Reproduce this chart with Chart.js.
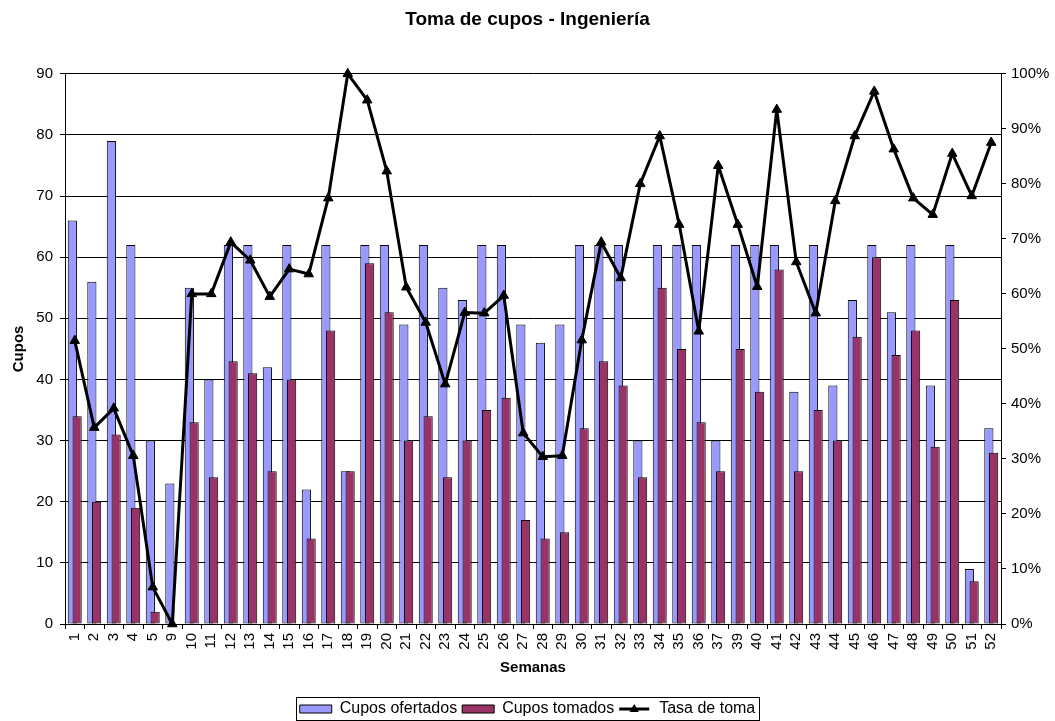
<!DOCTYPE html>
<html><head><meta charset="utf-8">
<script src="https://cdn.jsdelivr.net/npm/chart.js@4.4.1/dist/chart.umd.min.js"></script>
<style>html,body{margin:0;padding:0;background:#fff;}#wrap{width:1055px;height:721px;}</style>
</head><body><div id="wrap"><canvas id="c" width="1055" height="721"></canvas></div>
<script>
const categories = ['1','2','3','4','5','9','10','11','12','13','14','15','16','17','18','19','20','21','22','23','24','25','26','27','28','29','30','31','32','33','34','35','36','37','39','40','41','42','43','44','45','46','47','48','49','50','51','52'];
const cuposOfertados = [66,56,79,62,30,23,55,40,62,62,42,62,22,62,25,62,62,49,62,55,53,62,62,49,46,49,62,62,62,30,62,62,62,30,62,62,62,38,62,39,53,62,51,62,39,62,9,32];
const cuposTomados = [34,20,31,19,2,0,33,24,43,41,25,40,14,48,25,59,51,30,34,24,30,35,37,17,14,15,32,43,39,24,55,45,33,25,45,38,58,25,35,30,47,60,44,48,29,53,7,28];
const tasaDeToma = [0.515,0.357,0.392,0.306,0.067,0,0.600,0.600,0.694,0.661,0.595,0.645,0.636,0.774,1.000,0.952,0.823,0.612,0.548,0.436,0.566,0.565,0.597,0.347,0.304,0.306,0.516,0.694,0.629,0.800,0.887,0.726,0.532,0.833,0.726,0.613,0.935,0.658,0.565,0.769,0.887,0.968,0.863,0.774,0.744,0.855,0.778,0.875];
const seriesNames = ['Cupos ofertados','Cupos tomados','Tasa de toma'];
const chartTitle = 'Toma de cupos - Ingeniería';
const xTitle = 'Semanas';
const yTitle = 'Cupos';

const FAM = "'Liberation Sans', Arial, sans-serif";
const tickFont = {family: FAM, size: 15};

// draw blue bars first, then maroon bars, then the line on top
const orderPlugin = {
  id: 'drawOrder',
  beforeDatasetsDraw(chart) {
    [0, 1, 2].forEach(i => {
      const meta = chart.getDatasetMeta(i);
      if (meta && meta.controller && !meta.hidden) meta.controller.draw();
    });
    return false;
  }
};

const legendPlugin = {
  id: 'legendDeco',
  afterDraw(chart) {
    const lg = chart.legend; const hb = lg.legendHitBoxes; const ctx = chart.ctx;
    if (!hb || !hb.length) return;
    const first = hb[0], last = hb[hb.length - 1];
    const l = Math.round(first.left) - 4, r = Math.round(last.left + last.width) + 4;
    const t = Math.round(first.top) - 4, b = Math.round(first.top) + 19;
    ctx.save();
    ctx.strokeStyle = '#000'; ctx.lineWidth = 1;
    ctx.strokeRect(l + 0.5, t + 0.5, r - l, b - t);
    const h = hb[2]; const bw = 30; const cy = h.top + 8;
    ctx.beginPath(); ctx.moveTo(h.left, cy); ctx.lineTo(h.left + bw, cy);
    ctx.lineWidth = 3; ctx.stroke();
    const cx = h.left + bw / 2, rr = 5;
    ctx.beginPath();
    ctx.moveTo(cx, cy - rr);
    ctx.lineTo(cx + rr * 0.95, cy + rr * 0.6);
    ctx.lineTo(cx - rr * 0.95, cy + rr * 0.6);
    ctx.closePath(); ctx.fillStyle = '#000'; ctx.fill();
    ctx.restore();
  }
};

new Chart(document.getElementById('c'), {
  data: {
    labels: categories,
    datasets: [
      {type: 'bar', label: seriesNames[0], data: cuposOfertados, yAxisID: 'y',
       backgroundColor: '#9999FF', borderColor: '#000', borderWidth: 1, borderSkipped: false,
       categoryPercentage: 0.49, barPercentage: 1.92},
      {type: 'bar', label: seriesNames[1], data: cuposTomados, yAxisID: 'y',
       backgroundColor: '#993366', borderColor: '#000', borderWidth: 1, borderSkipped: false,
       categoryPercentage: 0.49, barPercentage: 1.92},
      {type: 'line', label: seriesNames[2], data: tasaDeToma, yAxisID: 'y2',
       borderColor: '#000', backgroundColor: '#000', borderWidth: 3, tension: 0,
       borderJoinStyle: 'round',
       pointStyle: 'triangle', pointRadius: 5.5, pointBackgroundColor: '#000', pointBorderColor: '#000',
       pointBorderWidth: 1, clip: false}
    ]
  },
  options: {
    responsive: false, animation: false, devicePixelRatio: 1, events: [],
    layout: {padding: 0},
    plugins: {
      title: {display: true, text: chartTitle, color: '#000',
              font: {family: FAM, size: 19, weight: 'bold'}, padding: {top: 8, bottom: 43}},
      legend: {position: 'bottom', maxHeight: 25,
        labels: {font: {family: FAM, size: 16}, color: '#000', boxWidth: 32, boxHeight: 8, padding: 5,
          generateLabels(chart) {
            const items = Chart.defaults.plugins.legend.labels.generateLabels(chart);
            items.forEach(it => {
              if (it.datasetIndex === 2) { it.fillStyle = 'rgba(0,0,0,0)'; it.strokeStyle = 'rgba(0,0,0,0)'; it.lineWidth = 0; }
              else { it.lineWidth = 1; it.strokeStyle = '#000'; }
            });
            return items;
          }}},
      tooltip: {enabled: false}
    },
    scales: {
      x: {type: 'category', offset: true,
          grid: {offset: true, drawOnChartArea: false, drawTicks: true, tickLength: 5, color: '#000'},
          border: {color: '#000', width: 1},
          ticks: {autoSkip: false, maxRotation: 90, minRotation: 90, padding: 4, font: tickFont, color: '#000'},
          title: {display: true, text: xTitle, color: '#000', font: {family: FAM, size: 15, weight: 'bold'}, padding: {top: 0, bottom: 19}},
          afterFit(s) { s.height = 72; }},
      y: {position: 'left', min: 0, max: 90,
          ticks: {stepSize: 10, padding: 7, font: tickFont, color: '#000'},
          grid: {color: '#000', tickLength: 5, drawTicks: true},
          border: {color: '#000', width: 1},
          title: {display: true, text: yTitle, color: '#000', font: {family: FAM, size: 15, weight: 'bold'}, padding: {top: 10, bottom: 0}},
          afterFit(s) { s.width = 65; }},
      y2: {position: 'right', min: 0, max: 1,
          ticks: {stepSize: 0.1, padding: 5, font: tickFont, color: '#000',
                  callback: v => Math.round(v * 100) + '%'},
          grid: {drawOnChartArea: false, color: '#000', tickLength: 5, drawTicks: true},
          border: {color: '#000', width: 1},
          afterFit(s) { s.width = 54; }}
    }
  },
  plugins: [orderPlugin, legendPlugin]
});
</script>
</body></html>
